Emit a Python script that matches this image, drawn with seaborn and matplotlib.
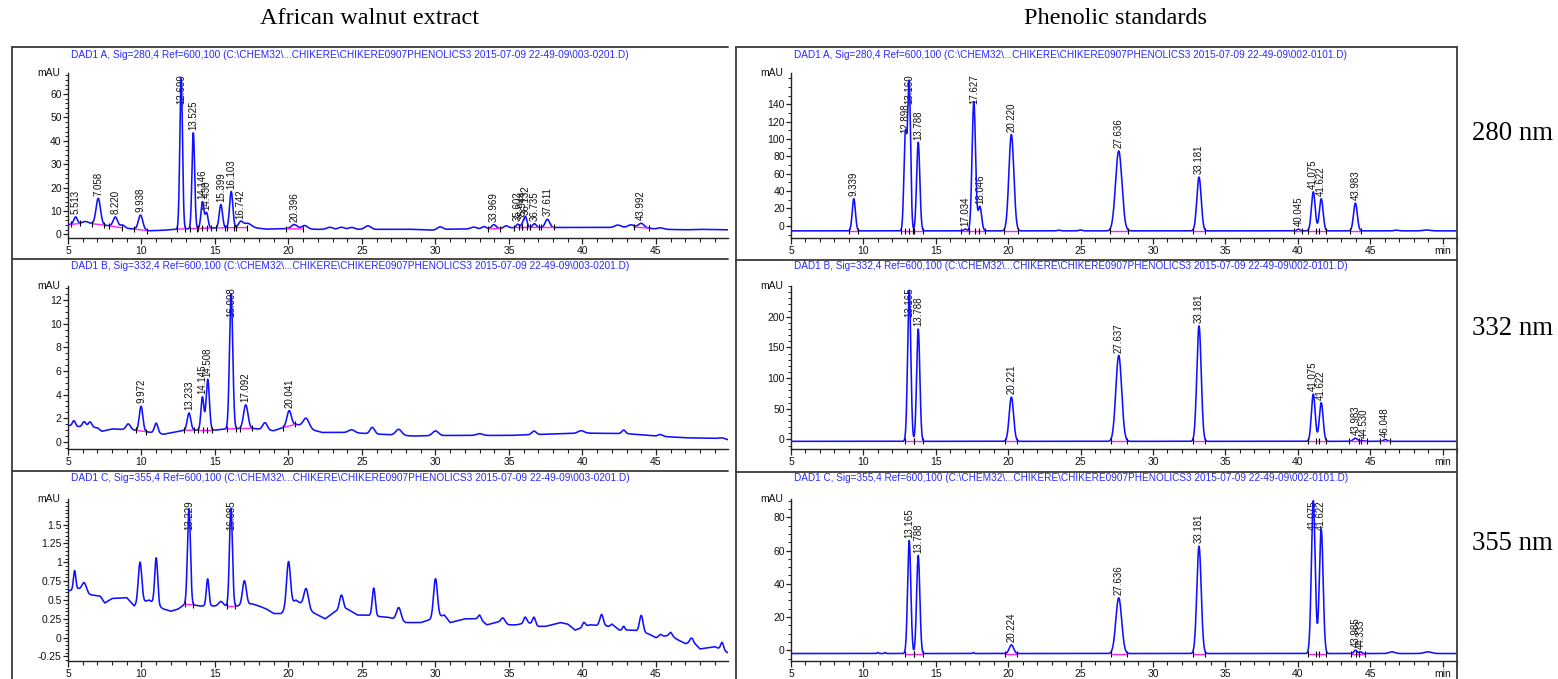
import numpy as np
import pandas as pd
import matplotlib
matplotlib.use("Agg")
import matplotlib.pyplot as plt
import seaborn as sns
from matplotlib.lines import Line2D
from matplotlib.ticker import MultipleLocator, FixedLocator

# ------------------------------------------------------------------ data
# --- African walnut extract, 280 nm
L280_base_t = [5, 6, 7, 7.5, 8.5, 9.5, 10.5, 11.5, 12.5, 15, 17.5, 18.5, 20, 22, 26, 28, 30, 31, 34, 35.5, 38, 42, 44, 45, 47, 48, 50]
L280_base_y = [4.2, 4.8, 4.5, 4.0, 3.0, 2.3, 1.6, 1.8, 2.3, 2.8, 3.0, 2.3, 2.5, 2.2, 2.2, 2.3, 1.8, 2.3, 2.4, 3.0, 3.0, 3.0, 3.2, 2.3, 2.0, 2.2, 2.0]
L280_rt = [5.513, 7.058, 8.220, 9.938, 12.699, 13.525, 14.146, 14.430, 15.399, 16.103, 16.742, 20.396, 33.969, 35.602, 35.944, 36.132, 36.735, 37.611, 43.992]
L280_h = [3.0, 11.0, 4.2, 6.3, 64.5, 41.0, 11.3, 6.5, 10.0, 15.5, 2.4, 1.8, 1.8, 1.4, 1.8, 4.3, 1.6, 3.5, 1.6]
L280_w = [0.12, 0.15, 0.15, 0.15, 0.09, 0.09, 0.10, 0.10, 0.11, 0.11, 0.15, 0.20, 0.15, 0.10, 0.10, 0.10, 0.12, 0.15, 0.18]
L280_lbl = ["5.513", "7.058", "8.220", "9.938", "12.699", "13.525", "14.146", "14.430", "15.399", "16.103", "16.742", "20.396", "33.969", "35.602", "35.944", "36.132", "36.735", "37.611", "43.992"]
L280_minor_rt = [6.2, 8.7, 17.2, 21.1, 22.8, 23.6, 24.3, 25.4, 30.3, 32.6, 33.3, 34.8, 42.4, 43.3, 45.3]
L280_minor_h = [0.8, 1.2, 1.8, 1.5, 0.9, 0.9, 0.8, 1.5, 1.3, 0.8, 1.0, 1.0, 1.0, 1.0, 0.6]
L280_minor_w = [0.2, 0.15, 0.25, 0.2, 0.2, 0.2, 0.2, 0.2, 0.2, 0.2, 0.15, 0.15, 0.2, 0.2, 0.2]

# --- African walnut extract, 332 nm
L332_base_t = [5, 5.7, 7, 7.3, 8, 9.5, 10.4, 11.5, 12.5, 13, 15, 15.8, 17.5, 19, 19.6, 20.5, 21.7, 22.3, 24, 28.5, 31, 35, 40, 43, 45, 47, 49, 49.5, 50]
L332_base_y = [1.4, 1.3, 1.2, 0.9, 1.1, 1.0, 0.85, 0.65, 0.9, 1.0, 1.0, 1.1, 1.15, 0.95, 1.2, 1.5, 1.0, 0.8, 0.8, 0.5, 0.55, 0.55, 0.75, 0.7, 0.5, 0.35, 0.3, 0.35, 0.15]
L332_rt = [9.972, 13.233, 14.145, 14.508, 16.098, 17.092, 20.041]
L332_h = [2.1, 1.45, 2.8, 4.3, 11.4, 2.0, 1.3]
L332_w = [0.12, 0.12, 0.10, 0.11, 0.11, 0.15, 0.15]
L332_lbl = ["9.972", "13.233", "14.145", "14.508", "16.098", "17.092", "20.041"]
L332_minor_rt = [5.4, 6.1, 6.5, 9.1, 11.0, 18.4, 21.2, 24.3, 25.7, 27.5, 30.0, 33.0, 36.7, 39.9, 42.8, 45.3]
L332_minor_h = [0.45, 0.45, 0.45, 0.5, 0.85, 0.6, 0.8, 0.25, 0.55, 0.5, 0.4, 0.15, 0.3, 0.2, 0.3, 0.15]
L332_minor_w = [0.1, 0.12, 0.12, 0.15, 0.12, 0.15, 0.2, 0.2, 0.15, 0.2, 0.2, 0.2, 0.15, 0.2, 0.12, 0.15]

# --- African walnut extract, 355 nm
L355_base_t = [5, 5.7, 6.5, 7.2, 7.5, 8, 9, 9.5, 10.5, 11.5, 12, 12.5, 13, 14, 15, 15.7, 16.5, 17.5, 18, 18.5, 19, 19.5, 20.5, 21.7, 22.5, 23.2, 24, 24.7, 25.3, 26.2, 26.8, 28, 29, 30.6, 31, 32, 33, 33.5, 34.5, 35, 35.5, 36.3, 37, 37.5, 38.5, 39, 39.5, 40.5, 41.8, 42, 42.5, 43.5, 44.5, 45, 45.5, 46, 46.5, 47, 47.5, 48, 49, 49.9]
L355_base_y = [0.62, 0.65, 0.57, 0.55, 0.46, 0.52, 0.53, 0.42, 0.5, 0.38, 0.35, 0.38, 0.45, 0.42, 0.42, 0.42, 0.42, 0.45, 0.42, 0.38, 0.32, 0.32, 0.5, 0.33, 0.25, 0.35, 0.38, 0.3, 0.3, 0.28, 0.27, 0.2, 0.2, 0.3, 0.2, 0.25, 0.25, 0.17, 0.22, 0.17, 0.17, 0.2, 0.15, 0.15, 0.2, 0.18, 0.1, 0.17, 0.15, 0.18, 0.1, 0.1, 0.05, 0.0, 0.02, 0.03, -0.03, -0.08, -0.05, -0.15, -0.12, -0.2]
L355_rt = [13.229, 16.085]
L355_h = [1.27, 1.30]
L355_w = [0.10, 0.10]
L355_lbl = ["13.229", "16.085"]
L355_minor_rt = [5.45, 6.1, 9.9, 11.0, 14.5, 15.4, 17.0, 20.0, 21.2, 23.6, 25.8, 27.5, 30.0, 33.0, 34.6, 36.1, 36.7, 40.1, 41.3, 42.8, 44.0, 45.3, 46.0, 47.4, 49.5]
L355_minor_h = [0.25, 0.12, 0.55, 0.62, 0.36, 0.06, 0.32, 0.6, 0.25, 0.2, 0.37, 0.17, 0.52, 0.05, 0.05, 0.08, 0.1, 0.06, 0.15, 0.05, 0.22, 0.03, 0.04, 0.05, 0.1]
L355_minor_w = [0.08, 0.15, 0.12, 0.1, 0.09, 0.15, 0.13, 0.13, 0.15, 0.13, 0.1, 0.15, 0.13, 0.1, 0.12, 0.1, 0.1, 0.1, 0.12, 0.08, 0.12, 0.1, 0.1, 0.1, 0.1]

# --- Phenolic standards, 280 nm
R280_base_t = [5, 51]
R280_base_y = [-5.8, -5.8]
R280_rt = [9.339, 12.898, 13.160, 13.788, 17.034, 17.627, 18.046, 20.220, 27.636, 33.181, 40.045, 41.075, 41.622, 43.983]
R280_h = [37, 110, 170, 102, 2, 149, 28, 111, 92, 62, 2, 45, 37, 32]
R280_w = [0.11, 0.10, 0.10, 0.11, 0.10, 0.12, 0.12, 0.17, 0.22, 0.15, 0.10, 0.13, 0.13, 0.13]
R280_lbl = ["9.339", "12.898", "13.160", "13.788", "17.034", "17.627", "18.046", "20.220", "27.636", "33.181", "40.045", "41.075", "41.622", "43.983"]
R280_minor_rt = [23.5, 25.0, 46.8, 48.9]
R280_minor_h = [0.8, 1.0, 0.8, 1.0]
R280_minor_w = [0.10, 0.12, 0.15, 0.25]

# --- Phenolic standards, 332 nm
R332_base_t = [5, 51]
R332_base_y = [-3.0, -3.0]
R332_rt = [13.165, 13.788, 20.221, 27.637, 33.181, 41.075, 41.622, 43.983, 44.530, 46.048]
R332_h = [246, 183, 72, 140, 188, 77, 63, 5, 1, 3]
R332_w = [0.11, 0.11, 0.15, 0.20, 0.15, 0.13, 0.13, 0.15, 0.10, 0.12]
R332_lbl = ["13.165", "13.788", "20.221", "27.637", "33.181", "41.075", "41.622", "43.983", "44.530", "46.048"]
R332_minor_rt = []
R332_minor_h = []
R332_minor_w = []

# --- Phenolic standards, 355 nm
R355_base_t = [5, 51]
R355_base_y = [-2.0, -2.0]
R355_rt = [13.165, 13.788, 20.224, 27.636, 33.181, 41.075, 41.622, 43.985, 44.333]
R355_h = [68, 59, 5.2, 33.5, 64.6, 92, 75, 2, 1]
R355_w = [0.11, 0.11, 0.15, 0.20, 0.15, 0.13, 0.13, 0.10, 0.10]
R355_lbl = ["13.165", "13.788", "20.224", "27.636", "33.181", "41.075", "41.622", "43.985", "44.333"]
R355_minor_rt = [11.0, 11.5, 17.6, 46.5, 49.0]
R355_minor_h = [0.6, 0.6, 0.6, 1.0, 1.0]
R355_minor_w = [0.05, 0.05, 0.05, 0.20, 0.25]

# --- axes texts
COL_TITLES = ["African walnut extract", "Phenolic standards"]
WAVELENGTHS = ["280 nm", "332 nm", "355 nm"]
HDR_LEFT = [r"DAD1 A, Sig=280,4 Ref=600,100 (C:\CHEM32\...CHIKERE\CHIKERE0907PHENOLICS3 2015-07-09 22-49-09\003-0201.D)",
            r"DAD1 B, Sig=332,4 Ref=600,100 (C:\CHEM32\...CHIKERE\CHIKERE0907PHENOLICS3 2015-07-09 22-49-09\003-0201.D)",
            r"DAD1 C, Sig=355,4 Ref=600,100 (C:\CHEM32\...CHIKERE\CHIKERE0907PHENOLICS3 2015-07-09 22-49-09\003-0201.D)"]
HDR_RIGHT = [r"DAD1 A, Sig=280,4 Ref=600,100 (C:\CHEM32\...CHIKERE\CHIKERE0907PHENOLICS3 2015-07-09 22-49-09\002-0101.D)",
             r"DAD1 B, Sig=332,4 Ref=600,100 (C:\CHEM32\...CHIKERE\CHIKERE0907PHENOLICS3 2015-07-09 22-49-09\002-0101.D)",
             r"DAD1 C, Sig=355,4 Ref=600,100 (C:\CHEM32\...CHIKERE\CHIKERE0907PHENOLICS3 2015-07-09 22-49-09\002-0101.D)"]
L_YTICKS = [[0, 10, 20, 30, 40, 50, 60], [0, 2, 4, 6, 8, 10, 12], [-0.25, 0, 0.25, 0.5, 0.75, 1, 1.25, 1.5]]
L_YTICKLABELS = [["0", "10", "20", "30", "40", "50", "60"], ["0", "2", "4", "6", "8", "10", "12"],
                 ["-0.25", "0", "0.25", "0.5", "0.75", "1", "1.25", "1.5"]]
R_YTICKS = [[0, 20, 40, 60, 80, 100, 120, 140], [0, 50, 100, 150, 200], [0, 20, 40, 60, 80]]
L_XTICKS = [5, 10, 15, 20, 25, 30, 35, 40, 45]
L_XTICKLABELS = ["5", "10", "15", "20", "25", "30", "35", "40", "45"]
R_XTICKS = [5, 10, 15, 20, 25, 30, 35, 40, 45, 50]
R_XTICKLABELS = ["5", "10", "15", "20", "25", "30", "35", "40", "45", "min"]

# ------------------------------------------------------------------ style
sns.set_theme(style="white")
plt.rcParams["font.family"] = ["Liberation Sans", "DejaVu Sans"]

W, H = 1558, 679
fig = plt.figure(figsize=(W / 100, H / 100), dpi=100)
fig.patch.set_facecolor("white")
renderer = fig.canvas.get_renderer()

BLUE = "#1010ff"
MAG = "#ff22ff"
HDR_BLUE = "#2a2aff"
FRAME = "#3a3a3a"
LBL_SIZE = 7


def rect(x0, y0, x1, y1):
    return [x0 / W, 1 - y1 / H, (x1 - x0) / W, (y1 - y0) / H]


def fig_line(x0, y0, x1, y1):
    fig.add_artist(Line2D([x0 / W, x1 / W], [1 - y0 / H, 1 - y1 / H], color=FRAME, lw=1.3))


def fit_text(x, y, s, target_w, size, ha="left", **kw):
    t = fig.text(x / W, 1 - y / H, s, ha=ha, va="center", fontsize=size, **kw)
    bb = t.get_window_extent(renderer)
    t.set_fontsize(size * target_w / bb.width)
    return t


ROWS = [(73, 238), (286, 449), (499, 661)]
LEFT_X = (68, 728)
RIGHT_X = (791, 1457)

panels = [
    dict(col=0, row=0, bt=L280_base_t, by=L280_base_y, rt=L280_rt, h=L280_h, w=L280_w, lbl=L280_lbl,
         mrt=L280_minor_rt, mh=L280_minor_h, mw=L280_minor_w, ylim=(-1.5, 69), minor=2),
    dict(col=0, row=1, bt=L332_base_t, by=L332_base_y, rt=L332_rt, h=L332_h, w=L332_w, lbl=L332_lbl,
         mrt=L332_minor_rt, mh=L332_minor_h, mw=L332_minor_w, ylim=(-0.6, 13.2), minor=0.5),
    dict(col=0, row=2, bt=L355_base_t, by=L355_base_y, rt=L355_rt, h=L355_h, w=L355_w, lbl=L355_lbl,
         mrt=L355_minor_rt, mh=L355_minor_h, mw=L355_minor_w, ylim=(-0.31, 1.84), minor=0.05),
    dict(col=1, row=0, bt=R280_base_t, by=R280_base_y, rt=R280_rt, h=R280_h, w=R280_w, lbl=R280_lbl,
         mrt=R280_minor_rt, mh=R280_minor_h, mw=R280_minor_w, ylim=(-14, 176), minor=10),
    dict(col=1, row=1, bt=R332_base_t, by=R332_base_y, rt=R332_rt, h=R332_h, w=R332_w, lbl=R332_lbl,
         mrt=R332_minor_rt, mh=R332_minor_h, mw=R332_minor_w, ylim=(-15.5, 250), minor=10),
    dict(col=1, row=2, bt=R355_base_t, by=R355_base_y, rt=R355_rt, h=R355_h, w=R355_w, lbl=R355_lbl,
         mrt=R355_minor_rt, mh=R355_minor_h, mw=R355_minor_w, ylim=(-6.5, 91), minor=5),
]

for p in panels:
    col, row = p["col"], p["row"]
    xr = LEFT_X if col == 0 else RIGHT_X
    y0, y1 = ROWS[row]
    ax = fig.add_axes(rect(xr[0], y0, xr[1], y1))
    xlim = (5, 49.9) if col == 0 else (5, 51)

    t = np.linspace(5, 51, 4601)
    base = np.interp(t, p["bt"], p["by"])
    y = base.copy()
    for r, hh, ww in zip(list(p["rt"]) + list(p["mrt"]), list(p["h"]) + list(p["mh"]), list(p["w"]) + list(p["mw"])):
        y = y + hh * np.exp(-0.5 * ((t - r) / ww) ** 2)
    df = pd.DataFrame({"time": t, "signal": y})
    sns.lineplot(data=df, x="time", y="signal", ax=ax, color=BLUE, linewidth=1.15,
                 estimator=None, sort=False, zorder=3)

    # integration baselines and peak labels
    for r, hh, ww, s in zip(p["rt"], p["h"], p["w"], p["lbl"]):
        xs = [r - 2.8 * ww, r + 2.8 * ww]
        bs = list(np.interp(xs, p["bt"], p["by"]))
        ax.plot(xs, bs, color=MAG, lw=1.0, zorder=4)
        ax.plot(xs, bs, ls="none", marker="|", ms=4, mew=0.8, color="black", zorder=5)
        apex = np.interp(r, p["bt"], p["by"]) + hh
        txt = ax.annotate(s, xy=(r, apex), xytext=(0, 2), textcoords="offset points",
                          rotation=90, ha="center", va="bottom", fontsize=LBL_SIZE, color="#111111", zorder=2)
        ax.set_ylim(*p["ylim"])
        bb = txt.get_window_extent(renderer)
        ax_bb = ax.get_window_extent(renderer)
        if bb.y1 > ax_bb.y1:
            txt.remove()
            ax.annotate(s, xy=(r, p["ylim"][1]), xytext=(0, -1), textcoords="offset points",
                        rotation=90, ha="center", va="top", fontsize=LBL_SIZE, color="#111111", zorder=2)

    ax.set_xlim(*xlim)
    ax.set_ylim(*p["ylim"])
    ax.set_xlabel("")
    ax.set_ylabel("")
    ax.set_facecolor("none")
    for side in ["top", "right"]:
        ax.spines[side].set_visible(False)
    for side in ["left", "bottom"]:
        ax.spines[side].set_color("#222222")
        ax.spines[side].set_linewidth(1.0)

    if col == 0:
        ax.xaxis.set_major_locator(FixedLocator(L_XTICKS))
        ax.set_xticklabels(L_XTICKLABELS)
        ax.yaxis.set_major_locator(FixedLocator(L_YTICKS[row]))
        ax.set_yticklabels(L_YTICKLABELS[row])
    else:
        ax.xaxis.set_major_locator(FixedLocator(R_XTICKS))
        ax.set_xticklabels(R_XTICKLABELS)
        ax.yaxis.set_major_locator(FixedLocator(R_YTICKS[row]))
        ax.set_yticklabels([str(v) for v in R_YTICKS[row]])
    ax.xaxis.set_minor_locator(MultipleLocator(1))
    ax.yaxis.set_minor_locator(MultipleLocator(p["minor"]))
    ax.tick_params(axis="x", which="major", direction="out", length=4.5, width=0.9, color="#222222",
                   labelsize=7.5, pad=1.5, bottom=True, labelcolor="#111111")
    ax.tick_params(axis="x", which="minor", direction="out", length=3, width=0.8, color="#222222", bottom=True)
    ax.tick_params(axis="y", which="major", direction="out", length=3.5, width=0.9, color="#222222",
                   labelsize=7.5, pad=1, left=True, labelcolor="#111111")
    ax.tick_params(axis="y", which="minor", direction="out", length=2, width=0.7, color="#222222", left=True)
    ax.annotate("mAU", xy=(0, 1), xycoords="axes fraction", xytext=(-6, 0), textcoords="offset points",
                ha="right", va="center", fontsize=7.5, color="#111111")

# ------------------------------------------------------------------ frames
fig_line(12, 47, 728, 47)
fig_line(12, 47, 12, 679)
fig_line(12, 259, 728, 259)
fig_line(12, 471, 728, 471)
fig_line(736, 47, 1457, 47)
fig_line(736, 47, 736, 679)
fig_line(1457, 47, 1457, 679)
fig_line(736, 260, 1457, 260)
fig_line(736, 472, 1457, 472)

# ------------------------------------------------------------------ headers / titles
HDR_Y = [55, 266, 478]
for i in range(3):
    fit_text(71, HDR_Y[i], HDR_LEFT[i], 557, 6.5, color=HDR_BLUE,
             family=["Liberation Sans Narrow", "Liberation Sans", "DejaVu Sans"])
    fit_text(794, HDR_Y[i], HDR_RIGHT[i], 548, 6.5, color=HDR_BLUE,
             family=["Liberation Sans Narrow", "Liberation Sans", "DejaVu Sans"])

fig.text(370 / W, 1 - 18 / H, COL_TITLES[0], ha="center", va="center", fontsize=17.5,
         family=["Liberation Serif", "DejaVu Serif"], color="black")
fig.text(1115 / W, 1 - 18 / H, COL_TITLES[1], ha="center", va="center", fontsize=17.5,
         family=["Liberation Serif", "DejaVu Serif"], color="black")
NM_Y = [133, 328, 543]
for i in range(3):
    fit_text(1472, NM_Y[i], WAVELENGTHS[i], 81, 18, family=["Liberation Serif", "DejaVu Serif"], color="black")

fig.savefig("out.png", dpi=100, facecolor="white")
